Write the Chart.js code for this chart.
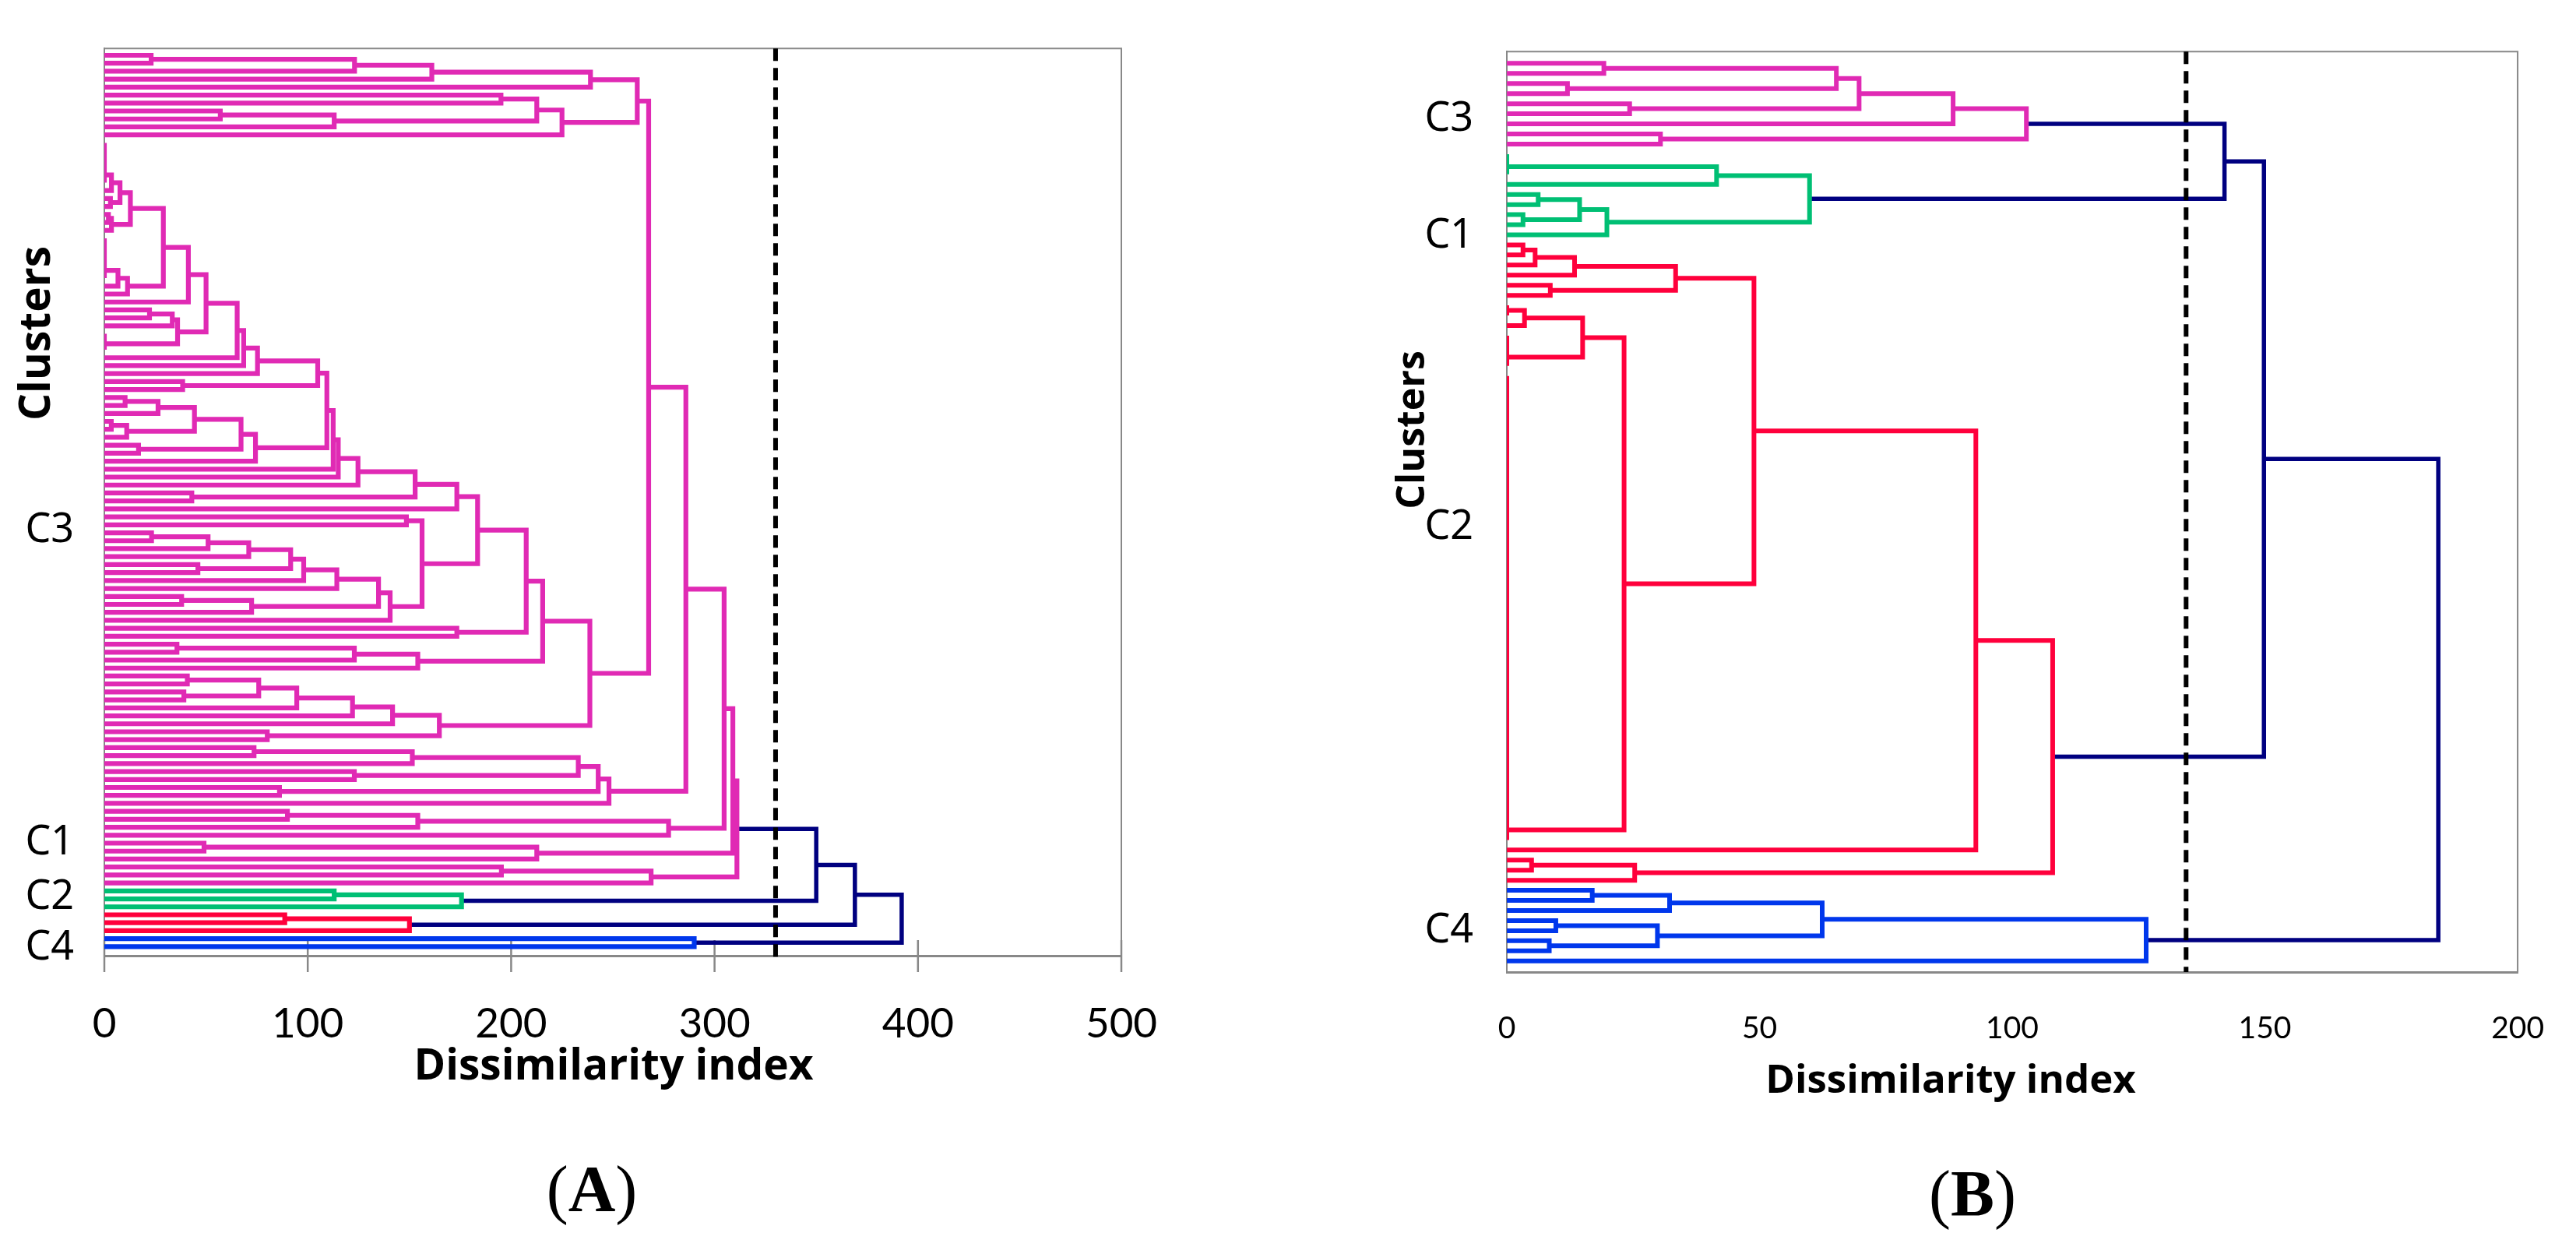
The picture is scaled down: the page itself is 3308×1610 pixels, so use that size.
<!DOCTYPE html>
<html>
<head>
<meta charset="utf-8">
<script src="https://cdn.jsdelivr.net/npm/chart.js@4.4.0/dist/chart.umd.min.js"></script>
<style>
  html, body { margin: 0; padding: 0; background: #fff; width: 3308px; height: 1610px; overflow: hidden; }
  .wrap { position: absolute; top: 0; height: 1430px; }
  #wrapA { left: 0; width: 1560px; }
  #wrapB { left: 1700px; width: 1608px; }
  .cap { position: absolute; font-family: "Liberation Serif", serif; font-size: 84px; line-height: 1; transform: translate(-50%, -50%); color: #000; }
</style>
</head>
<body>
<div class="wrap" id="wrapA"><canvas id="chartA"></canvas></div>
<div class="wrap" id="wrapB"><canvas id="chartB"></canvas></div>
<div class="cap" style="left:760px;top:1527px">(<b>A</b>)</div>
<div class="cap" style="left:2533px;top:1533px">(<b>B</b>)</div>
<script>
// dendrogram data, leaves listed top to bottom.
// a node is [upper branch, lower branch, dissimilarity]; a plain number n is
// a group of n identical samples (joined at 0)

// ---- panel A
const topA = [[[[[1, 1, 23], 1, 123], 1, 161], 1, 239], [[[1, 1, 195], [[1, 1, 57], 1, 113], 212.6], 1, 225], 262];
const s1A = [[[6, 1, 3.5], [1, 1, 3], 7.7], [[1, 1, 2], 1, 3.5], 12.8];
const s2A = [[6, 1, 6.7], 1, 11.4];
const s3A = [[[1, 1, 22.2], 1, 33.4], 3, 36];
const oA = [[[s1A, s2A, 29], 1, 41.3], s3A, 50];
const tA = [[[[oA, 1, 65.3], 1, 68.5], 1, 75.3], [1, 1, 38.5], 104.9];
const s4A = [[[[[1, 1, 10.2], 1, 26.4], [[1, 1, 3.4], 1, 11], 44.3], [1, 1, 16.8], 67.2], 1, 74.3];
const ccA = [tA, s4A, 109.4];
const iiA = [[[[[ccA, 1, 112.5], 1, 115], 1, 124.7], [1, 1, 43], 152.8], 1, 173.3];
const n59A = [[[1, 1, 23.2], 1, 51], 1, 71];
const n114A = [[[n59A, [1, 1, 46], 91.6], 1, 98], 1, 114.3];
const kkA = [[1, 1, 148.5], [[n114A, [[1, 1, 38], 1, 72.4], 134.8], 1, 140.5], 156.2];
const nnA = [[[iiA, kkA, 183.5], [1, 1, 173.3], 207.4], [[[1, 1, 35.7], 1, 122.9], 1, 154.1], 215.5];
const ooA = [[[[[[1, 1, 40.8], [1, 1, 39.1], 75.9], 1, 94.6], 1, 122], 1, 141.7], [1, 1, 80.1], 164.7];
const bnA = [nnA, ooA, 238.7];
const n248A = [[[[[1, 1, 73.6], 1, 151.4], [1, 1, 122.9], 233], [1, 1, 86.1], 242.8], 1, 248.1];
const n277A = [[[1, 1, 90], 1, 154.1], 1, 277.4];
const n99A = [[1, 1, 49], 1, 212.6];
const n104A = [[1, 1, 195.2], 1, 268.8];
const magentaA = [[[[[topA, bnA, 267.6], n248A, 285.9], n277A, 304.7], n99A, 309], n104A, 311];
const greenA = [[1, 1, 113], 1, 175.6];
const redA = [[1, 1, 88.7], 1, 150];
const blueA = [1, 1, 290];
const rootsA = [350, 369, 392];
const cutA = 330;
const xTicksA = [0, 100, 200, 300, 400, 500];
const yLabA = ['C3', 'C1', 'C2', 'C4'];
const yRowA = [59.7, 99, 105.8, 112.2];

// ---- panel B
const magentaB = [[[[[1, 1, 19.2], [1, 1, 12], 65.2], [1, 1, 24.3], 69.7], 1, 88.3], [1, 1, 30.4], 102.8];
const greenB = [[3, 1, 41.5], [[[1, 1, 6.2], [1, 1, 3.2], 14.4], 1, 19.8], 59.9];
const redTopB = [[[[1, 1, 3.2], 1, 5.6], 1, 13.4], [1, 1, 8.6], 33.4];
const redMidB = [[[2, 1, 3.5], 4, 15], 47, 23.2];
const redB = [[[redTopB, redMidB, 48.9], 1, 92.8], [[1, 1, 4.9], 1, 25.3], 108];
const blueB = [[[[1, 1, 16.9], 1, 32.2], [[1, 1, 9.7], [1, 1, 8.4], 29.8], 62.4], 1, 126.5];
const rootsB = [142, 149.8, 184.3];
const cutB = 134.4;
const xTicksB = [0, 50, 100, 150, 200];
const yLabB = ['C3', 'C1', 'C2', 'C4'];
const yRowB = [5.56, 17.15, 46, 86];

const clusterColors = ['#E02AB4', '#00BF74', '#FF003C', '#0037EC'];
const linkColor = '#000080';

function grow(node, st, segs) {
  if (typeof node === 'number') {
    const first = st.row;
    let y = first;
    for (let k = 1; k < node; k++) y = (y + first + k) / 2;
    if (node > 1) segs.push([[0, first], [0, first + node - 1]]);
    st.row += node;
    return {y: y, h: 0};
  }
  const up = grow(node[0], st, segs);
  const lo = grow(node[1], st, segs);
  const h = node[2];
  segs.push([[up.h, up.y], [h, up.y], [h, lo.y], [lo.h, lo.y]]);
  return {y: (up.y + lo.y) / 2, h: h};
}

function toPoints(segs) {
  const pts = [];
  segs.forEach(function(s) {
    s.forEach(function(p) { pts.push({x: p[0], y: p[1]}); });
    pts.push({x: null, y: null});
  });
  return pts;
}

const framePlugin = {
  id: 'frame',
  beforeDatasetsDraw(chart, args, opts) {
    const ctx = chart.ctx, a = chart.chartArea, x = chart.scales.x;
    ctx.save();
    ctx.strokeStyle = '#888';
    ctx.lineWidth = 2;
    ctx.beginPath();
    ctx.moveTo(a.left, a.top);
    ctx.lineTo(a.right, a.top);
    ctx.lineTo(a.right, a.bottom);
    ctx.stroke();
    if (opts.tickIn || opts.tickOut) {
      ctx.lineWidth = 2.5;
      x.ticks.forEach(function(t) {
        const px = x.getPixelForValue(t.value);
        ctx.beginPath();
        ctx.moveTo(px, a.bottom - opts.tickIn);
        ctx.lineTo(px, a.bottom + opts.tickOut);
        ctx.stroke();
      });
    }
    ctx.restore();
  }
};

const textPlugin = {
  id: 'panelText',
  afterDraw(chart, args, opts) {
    const ctx = chart.ctx;
    (opts.items || []).forEach(function(t) {
      ctx.save();
      ctx.font = t.font;
      ctx.fillStyle = '#000';
      ctx.textAlign = 'center';
      ctx.textBaseline = 'middle';
      ctx.translate(t.x, t.y);
      if (t.rot) ctx.rotate(t.rot);
      ctx.fillText(t.text, 0, 0);
      ctx.restore();
    });
  }
};

function panel(canvasId, p) {
  const st = {row: 0};
  const datasets = [];
  const tops = [];
  p.clusters.forEach(function(tree, i) {
    const segs = [];
    tops.push(grow(tree, st, segs));
    datasets.push({data: toPoints(segs), borderColor: clusterColors[i], borderWidth: p.lw});
  });
  const links = [];
  let cur = tops[0];
  for (let i = 1; i < tops.length; i++) {
    const nxt = tops[i], h = p.roots[i - 1];
    links.push([[cur.h, cur.y], [h, cur.y], [h, nxt.y], [nxt.h, nxt.y]]);
    cur = {y: (cur.y + nxt.y) / 2, h: h};
  }
  datasets.push({data: toPoints(links), borderColor: linkColor, borderWidth: p.linkW});
  const yMin = -p.padTop, yMax = st.row - 1 + p.padBot;
  datasets.unshift({
    data: [{x: p.cut, y: yMin}, {x: p.cut, y: yMax + p.cutExtra}],
    borderColor: '#000', borderWidth: 6, borderDash: [16, 9], clip: false
  });
  datasets.forEach(function(d) {
    d.showLine = true; d.pointRadius = 0; d.fill = false; d.tension = 0;
    d.borderJoinStyle = 'miter'; d.spanGaps = false;
  });

  new Chart(document.getElementById(canvasId), {
    type: 'scatter',
    data: {datasets: datasets},
    options: {
      responsive: true,
      maintainAspectRatio: false,
      animation: false,
      events: [],
      layout: {padding: {left: 0, top: p.top, right: p.right, bottom: 0}},
      plugins: {
        legend: {display: false},
        tooltip: {enabled: false},
        frame: {tickIn: p.tickIn, tickOut: p.tickOut},
        panelText: {items: p.texts}
      },
      scales: {
        x: {
          type: 'linear',
          min: p.xTicks[0],
          max: p.xTicks[p.xTicks.length - 1],
          afterBuildTicks: function(s) { s.ticks = p.xTicks.map(function(v) { return {value: v}; }); },
          afterFit: function(s) { s.height = p.xH; },
          grid: {display: false},
          border: {color: '#888', width: 3},
          ticks: {padding: p.xPad, color: '#000', maxRotation: 0, autoSkip: false,
                  font: {family: 'Lato', size: p.xFont}}
        },
        y: {
          type: 'linear',
          reverse: true,
          min: yMin,
          max: yMax,
          afterBuildTicks: function(s) { s.ticks = p.yRow.map(function(v) { return {value: v}; }); },
          afterFit: function(s) { s.width = p.yW; },
          grid: {display: false},
          border: {color: '#888', width: 2},
          ticks: {padding: p.yPad, color: '#000', autoSkip: false,
                  callback: function(v, i) { return p.yLab[i]; },
                  font: {family: 'Noto Sans', size: 52}}
        }
      }
    },
    plugins: [framePlugin, textPlugin]
  });
}

panel('chartA', {
  clusters: [magentaA, greenA, redA, blueA], roots: rootsA, cut: cutA, cutExtra: 0.45,
  xTicks: xTicksA, yLab: yLabA, yRow: yRowA,
  lw: 6.2, linkW: 5.5, padTop: 0.86, padBot: 1.14,
  top: 30, right: 120, xH: 203, yW: 134, xPad: 48, xFont: 53, yPad: 31,
  tickIn: 20, tickOut: 21,
  texts: [
    {text: 'Dissimilarity index', x: 788, y: 1370, font: 'bold 55px "Open Sans"'},
    {text: 'Clusters', x: 48, y: 428, rot: -Math.PI / 2, font: 'bold 55px "Open Sans"'}
  ]
});

panel('chartB', {
  clusters: [magentaB, greenB, redB, blueB], roots: rootsB, cut: cutB, cutExtra: 0,
  xTicks: xTicksB, yLab: yLabB, yRow: yRowB,
  lw: 6, linkW: 5.5, padTop: 1.17, padBot: 1.1,
  top: 42, right: 57, xH: 182, yW: 235, xPad: 41, xFont: 39, yPad: 35,
  tickIn: 0, tickOut: 0,
  texts: [
    {text: 'Dissimilarity index', x: 805, y: 1388, font: 'bold 51px "Open Sans"'},
    {text: 'Clusters', x: 115, y: 552, rot: -Math.PI / 2, font: 'bold 50px "Open Sans"'}
  ]
});
</script>
</body>
</html>
